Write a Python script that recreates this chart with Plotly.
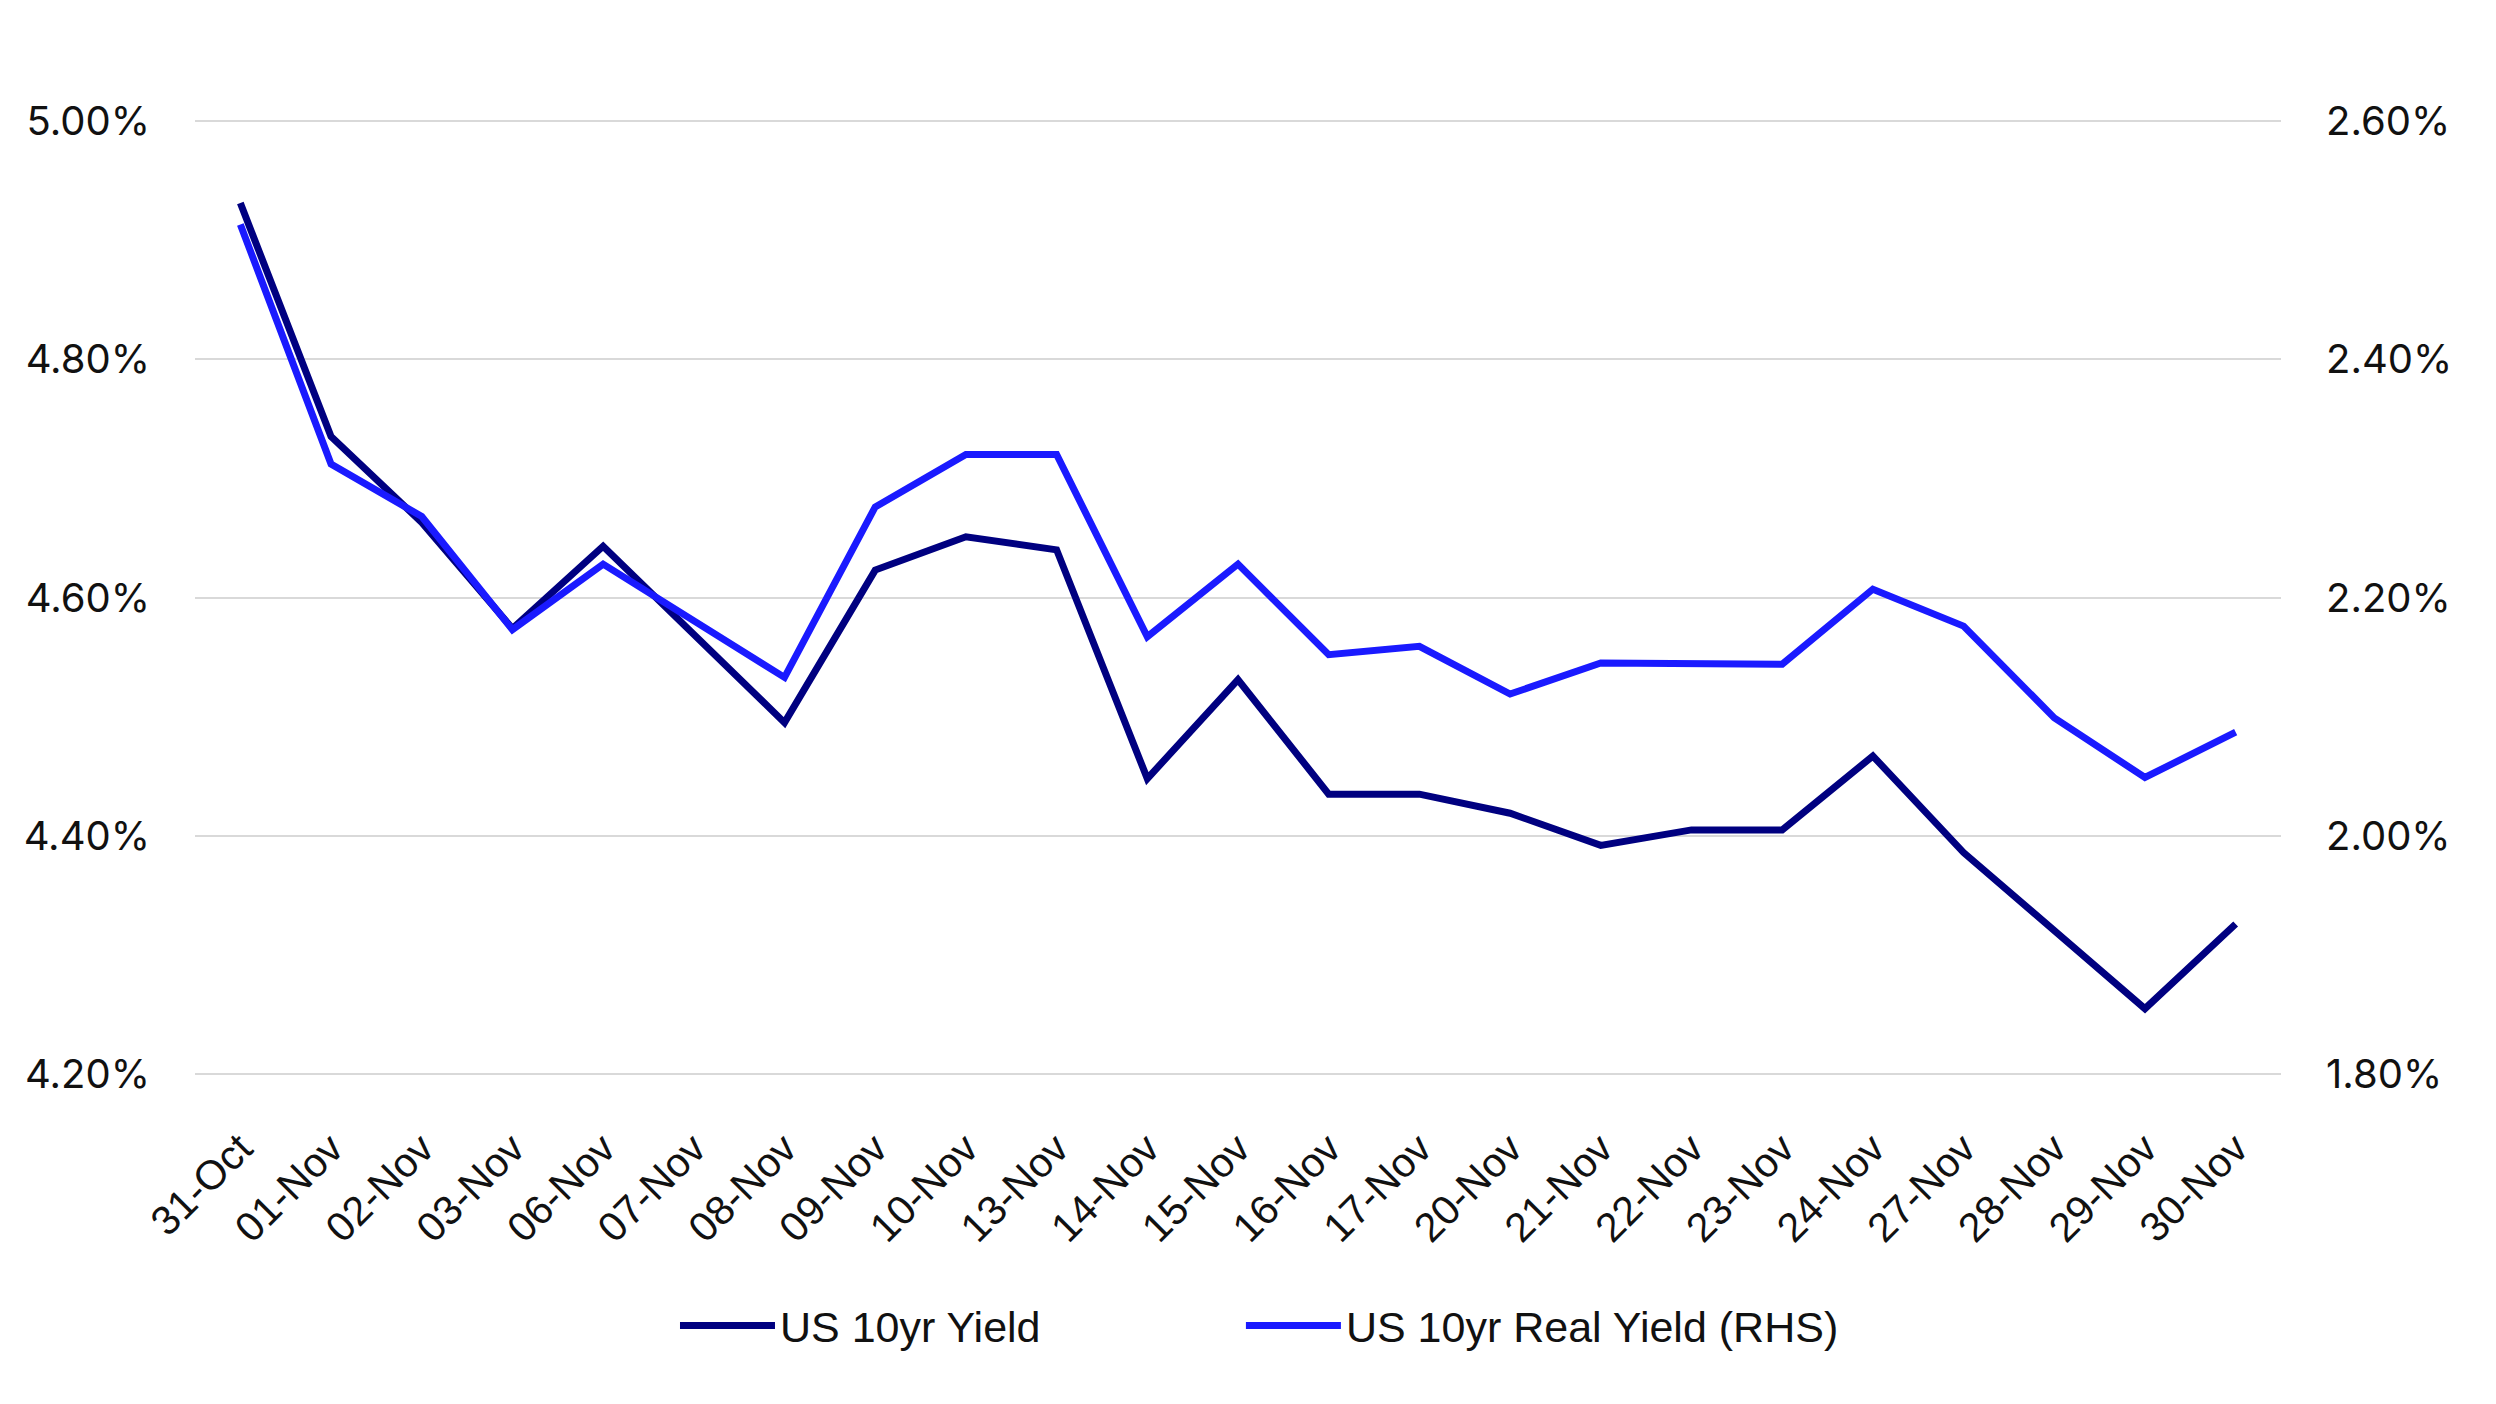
import plotly.graph_objects as go

dates = ["31-Oct", "01-Nov", "02-Nov", "03-Nov", "06-Nov", "07-Nov", "08-Nov", "09-Nov",
         "10-Nov", "13-Nov", "14-Nov", "15-Nov", "16-Nov", "17-Nov", "20-Nov", "21-Nov",
         "22-Nov", "23-Nov", "24-Nov", "27-Nov", "28-Nov", "29-Nov", "30-Nov"]

us10y = [4.931, 4.735, 4.663, 4.574, 4.643, 4.569, 4.495, 4.623,
         4.651, 4.640, 4.448, 4.531, 4.435, 4.435, 4.419, 4.392,
         4.405, 4.405, 4.467, 4.386, 4.321, 4.255, 4.326]

us10y_real = [2.513, 2.312, 2.268, 2.173, 2.228, 2.180, 2.133, 2.276,
              2.320, 2.320, 2.167, 2.228, 2.152, 2.159, 2.119, 2.145,
              2.144, 2.144, 2.207, 2.176, 2.099, 2.049, 2.087]

left_ticks = [4.2, 4.4, 4.6, 4.8, 5.0]
right_ticks = [1.8, 2.0, 2.2, 2.4, 2.6]

DARK = "#000080"
BLUE = "#1a1aff"

fig = go.Figure()
fig.add_trace(go.Scatter(x=dates, y=us10y, name="US 10yr Yield", mode="lines",
                         line=dict(color=DARK, width=7), legend="legend"))
fig.add_trace(go.Scatter(x=dates, y=us10y_real, name="US 10yr Real Yield (RHS)", mode="lines",
                         line=dict(color=BLUE, width=7), yaxis="y2", legend="legend2"))

tickfont_y = dict(family="Inter", size=40, color="#111111")
legfont = dict(family="Liberation Sans", size=43, color="#111111")
pad = 0.004

fig.update_layout(
    width=2496, height=1404,
    paper_bgcolor="white", plot_bgcolor="white",
    margin=dict(l=195, r=215, t=116, b=325),
    showlegend=True,
    legend=dict(orientation="h", x=0.2301, xanchor="left", y=-0.256, yanchor="middle",
                font=legfont, itemwidth=95),
    legend2=dict(orientation="h", x=0.5014, xanchor="left", y=-0.256, yanchor="middle",
                 font=legfont, itemwidth=95),
    xaxis=dict(type="category", range=[-0.5, len(dates) - 0.5], tickangle=-45,
               tickfont=dict(family="Liberation Sans", size=41, color="#111111"),
               showgrid=False, showline=False, zeroline=False, ticks="",
               ticklabelstandoff=36, automargin=False),
    yaxis=dict(range=[4.2 - pad, 5.0 + pad], tickvals=left_ticks,
               ticktext=[f"{v:.2f}%" for v in left_ticks],
               tickfont=tickfont_y, showgrid=True, gridcolor="#d9d9d9", gridwidth=2,
               zeroline=False, showline=False, ticks="", ticklabelstandoff=44,
               automargin=False),
    yaxis2=dict(range=[1.8 - pad, 2.6 + pad], tickvals=right_ticks,
                ticktext=[f"{v:.2f}%" for v in right_ticks],
                tickfont=tickfont_y, overlaying="y", side="right", showgrid=False,
                zeroline=False, showline=False, ticks="", ticklabelstandoff=44,
                automargin=False),
)

fig.write_html("out.html", config={"displayModeBar": False},
               post_script="document.body.style.margin='0';")
